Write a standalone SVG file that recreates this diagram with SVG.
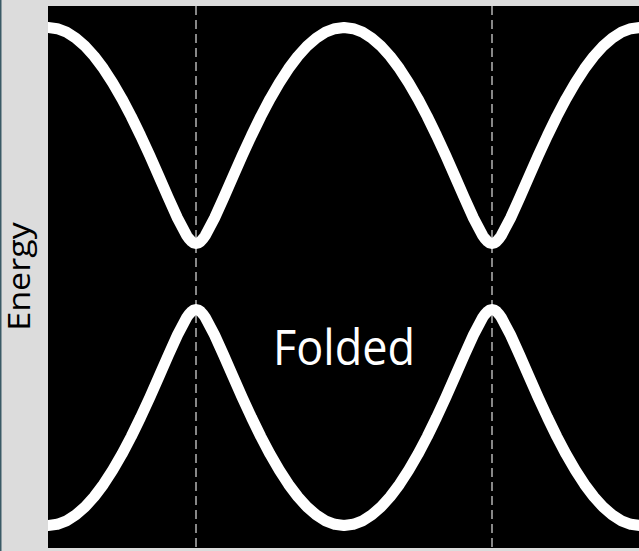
<svg xmlns="http://www.w3.org/2000/svg" xmlns:xlink="http://www.w3.org/1999/xlink" width="639" height="551" viewBox="0 0 639 551">
  <style>
    .band { fill: none; stroke: #ffffff; stroke-width: 11; stroke-linejoin: round; stroke-linecap: butt; }
    .zone { stroke: #b4b4b4; stroke-width: 1.5; stroke-dasharray: 9 5; }
    .lbl { font-family: "Open Sans", "Noto Sans", "DejaVu Sans", sans-serif; text-anchor: middle; }
  </style>
  <defs>
    <clipPath id="plotClip">
      <rect x="48" y="6" width="591" height="542"/>
    </clipPath>
    <path id="upperBand" class="band" d="M38.75,28.68 L48,27.5 57.25,28.68 66.5,32.2 75.75,38.03 85,46.11 94.25,56.35 103.5,68.65 112.75,82.89 122,98.9 131.25,116.49 140.5,135.47 149.75,155.57 159,176.45 168.25,197.63 177.5,218.13 186.75,235.59 189.06,238.84 191.38,241.35 193.69,242.95 196,243.5 198.31,242.95 200.63,241.35 202.94,238.84 205.25,235.59 214.5,218.13 223.75,197.63 233,176.45 242.25,155.57 251.5,135.47 260.75,116.49 270,98.9 279.25,82.89 288.5,68.65 297.75,56.35 307,46.11 316.25,38.03 325.5,32.2 334.75,28.68 344,27.5 353.25,28.68 362.5,32.2 371.75,38.03 381,46.11 390.25,56.35 399.5,68.65 408.75,82.89 418,98.9 427.25,116.49 436.5,135.47 445.75,155.57 455,176.45 464.25,197.63 473.5,218.13 482.75,235.59 485.06,238.84 487.38,241.35 489.69,242.95 492,243.5 494.31,242.95 496.63,241.35 498.94,238.84 501.25,235.59 510.5,218.13 519.75,197.63 529,176.45 538.25,155.57 547.5,135.47 556.75,116.49 566,98.9 575.25,82.89 584.5,68.65 593.75,56.35 603,46.11 612.25,38.03 621.5,32.2 630.75,28.68 640,27.5 649.25,28.68"/>
  </defs>

  <rect x="0" y="0" width="639" height="551" fill="#dcdcdc"/>
  <rect x="0" y="0" width="1.5" height="551" fill="#3a5a66"/>

  <g id="plot">
    <rect x="48" y="6" width="591" height="542" fill="#000000"/>
  </g>

  <g id="connectors" clip-path="url(#plotClip)">
    <line class="zone" x1="196" y1="6" x2="196" y2="548"/>
    <line class="zone" x1="492" y1="6" x2="492" y2="548"/>
    <use id="upper" xlink:href="#upperBand"/>
    <use id="lower" xlink:href="#upperBand" transform="matrix(1,0,0,-1,0,553)"/>
  </g>

  <g id="label-folded">
    <text class="lbl" font-size="45" fill="#ffffff" transform="translate(344,365) scale(1,1.08)">Folded</text>
  </g>

  <g id="label-energy">
    <text class="lbl" font-size="31" fill="#000000" transform="translate(30,276.5) scale(1,1.1) rotate(-90)">Energy</text>
  </g>
</svg>
